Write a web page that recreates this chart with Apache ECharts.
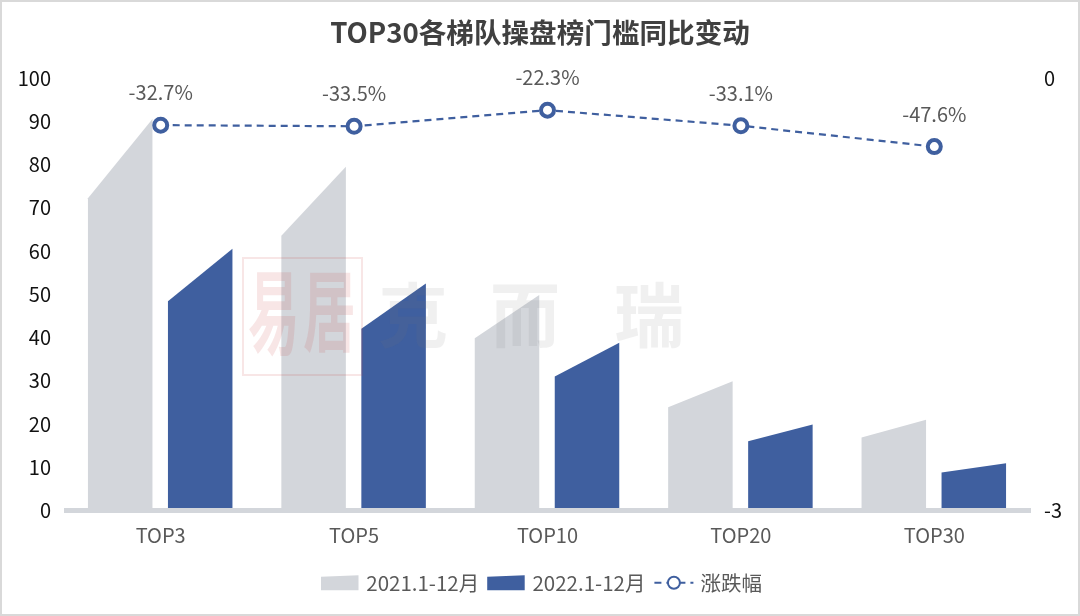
<!DOCTYPE html>
<html><head><meta charset="utf-8">
<style>html,body{margin:0;padding:0;background:#fff}#c{width:1080px;height:616px}</style>
<script src="https://cdn.jsdelivr.net/npm/echarts@6/dist/echarts.min.js"></script>
</head><body><div id="c"></div>
<script>
const categories = ['TOP3','TOP5','TOP10','TOP20','TOP30'];
const seriesName2021 = '2021.1-12月';
const seriesName2022 = '2022.1-12月';
const seriesNameChange = '涨跌幅';
const values2021 = [90.5, 79.5, 49.8, 29.9, 21];
const leftEdge2021 = [72.2, 63.5, 39.8, 23.9, 16.9];
const values2022 = [60.5, 52.5, 38.8, 19.9, 10.9];
const leftEdge2022 = [48.4, 42, 31, 16, 8.8];
const changeValues = [-0.327, -0.335, -0.223, -0.331, -0.476];
const FONT = '"Noto Sans CJK SC","Noto Sans",sans-serif';
const GREY = '#D3D6DB', BLUE = '#3F5F9F';

function slanted(offset, width, color) {
  return function (params, api) {
    const idx = api.value(0);
    const base = api.coord([idx, 0]);
    const right = api.coord([idx, api.value(1)]);
    const left = api.coord([idx, api.value(2)]);
    const x0 = base[0] + offset - width / 2, x1 = x0 + width;
    return {
      type: 'polygon',
      shape: { points: [[x0, base[1]], [x0, left[1]], [x1, right[1]], [x1, base[1]]] },
      style: { fill: color }
    };
  };
}
const zip = (a, b) => a.map((v, i) => [i, v, b[i]]);
const sealColor = 'rgba(200,60,60,0.13)';
const wmColor = 'rgba(120,120,120,0.11)';
const wm = (t, x) => ({ type: 'text', z: 50, silent: true, x, y: 280,
  style: { text: t, font: 'bold 70px "Noto Sans CJK SC"', fill: wmColor } });

const chart = echarts.init(document.getElementById('c'), null, { renderer: 'canvas' });
chart.setOption({
  animation: false,
  backgroundColor: '#fff',
  title: { text: 'TOP30各梯队操盘榜门槛同比变动', left: 'center', top: 14,
    textStyle: { fontFamily: FONT, fontSize: 27.6, fontWeight: 'bold', color: '#404040' } },
  grid: { left: 64, right: 49, top: 78, bottom: 105.5 },
  legend: {
    bottom: 23, left: 321, padding: 0, itemWidth: 39, itemGap: 8, itemHeight: 15,
    textStyle: { fontFamily: FONT, fontSize: 20.5, color: '#595959', padding: [0, 0, 0, 2] },
    data: [
      { name: seriesName2021, icon: 'path://M0,4 L100,0 L100,40 L0,40 Z', itemStyle: { color: GREY } },
      { name: seriesName2022, icon: 'path://M0,4 L100,0 L100,40 L0,40 Z', itemStyle: { color: BLUE } },
      { name: seriesNameChange }
    ]
  },
  xAxis: {
    type: 'category', data: categories, z: 3,
    axisTick: { show: false },
    axisLine: { lineStyle: { color: GREY, width: 5, cap: 'butt' } },
    axisLabel: { fontFamily: FONT, fontSize: 20, color: '#595959', margin: 15 }
  },
  yAxis: [
    { type: 'value', min: 0, max: 100, interval: 10, splitLine: { show: false },
      axisLine: { show: false }, axisTick: { show: false },
      axisLabel: { fontFamily: FONT, fontSize: 20, color: '#111', margin: 13 } },
    { type: 'value', min: -3, max: 0, interval: 3, splitLine: { show: false },
      axisLine: { show: false }, axisTick: { show: false },
      axisLabel: { fontFamily: FONT, fontSize: 20, color: '#111', margin: 13 } }
  ],
  series: [
    { name: seriesName2021, type: 'custom', z: 2, itemStyle: { color: GREY },
      renderItem: slanted(-40.5, 64.5, GREY), encode: { x: 0, y: 1 }, data: zip(values2021, leftEdge2021) },
    { name: seriesName2022, type: 'custom', z: 2, itemStyle: { color: BLUE },
      renderItem: slanted(39.5, 64.5, BLUE), encode: { x: 0, y: 1 }, data: zip(values2022, leftEdge2022) },
    { name: seriesNameChange, type: 'line', yAxisIndex: 1, z: 5, data: changeValues,
      symbol: 'circle', symbolSize: 13,
      lineStyle: { color: BLUE, width: 2.2, type: [7, 5] },
      itemStyle: { color: '#fff', borderColor: BLUE, borderWidth: 4 },
      label: { show: true, position: 'top', distance: 14, fontFamily: FONT, fontSize: 20, color: '#595959',
        formatter: p => (p.value * 100).toFixed(1) + '%' } }
  ],
  graphic: [
    { type: 'rect', z: 50, silent: true, shape: { x: 243, y: 258, width: 119, height: 117 },
      style: { fill: 'none', stroke: sealColor, lineWidth: 2 } },
    { type: 'text', z: 50, silent: true, x: 248, y: 266, scaleX: 0.78, scaleY: 1.4,
      style: { text: '易', font: 'bold 66px "Noto Sans CJK SC"', fill: sealColor } },
    { type: 'text', z: 50, silent: true, x: 303, y: 266, scaleX: 0.8, scaleY: 1.35,
      style: { text: '居', font: 'bold 66px "Noto Sans CJK SC"', fill: sealColor } },
    wm('克', 378), wm('而', 490), wm('瑞', 614),
    { type: 'rect', z: 60, silent: true, shape: { x: 1, y: 1, width: 1078, height: 614 },
      style: { fill: 'none', stroke: '#D9D9D9', lineWidth: 2 } }
  ]
});
</script></body></html>
